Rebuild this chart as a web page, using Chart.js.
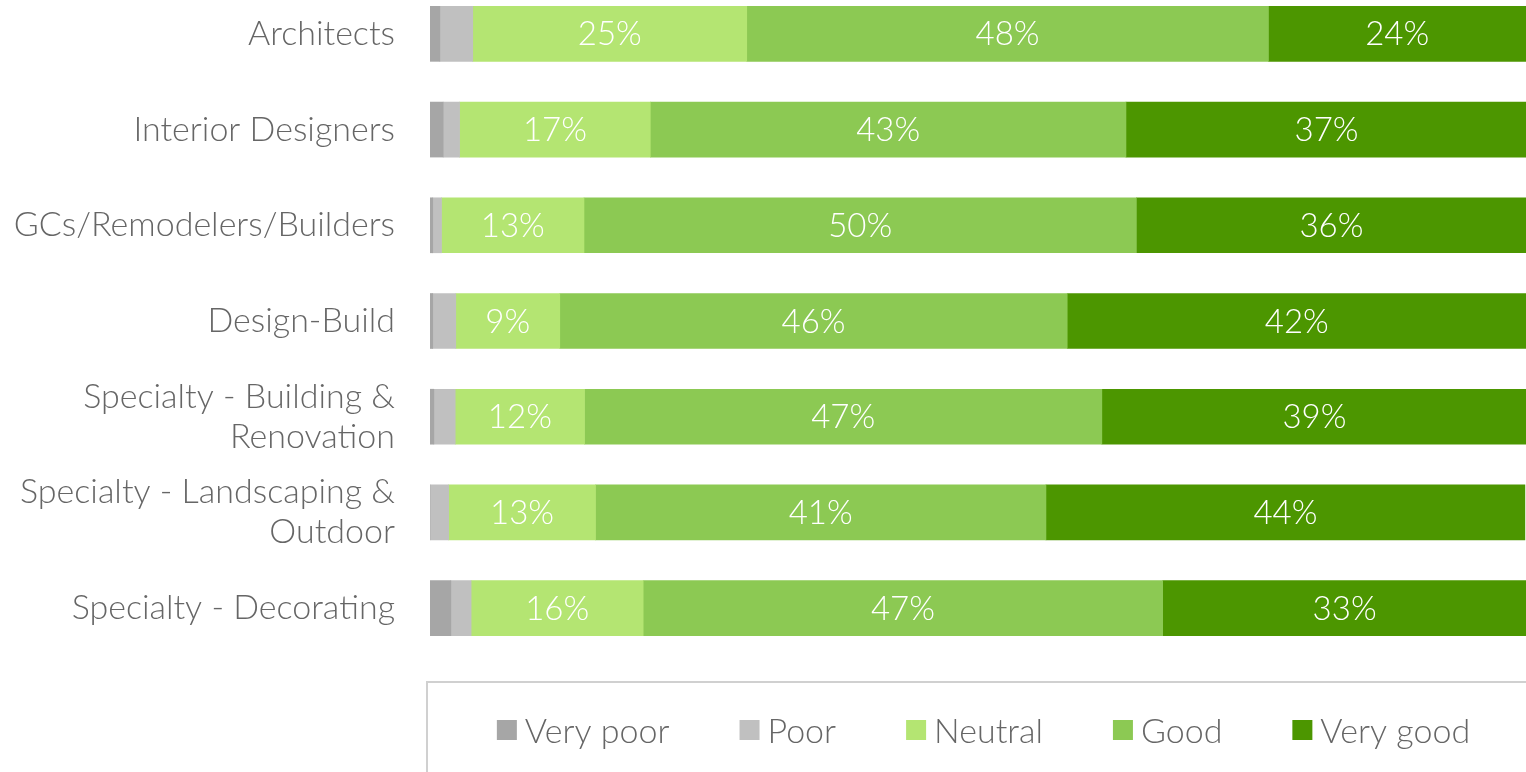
<!DOCTYPE html>
<html>
<head>
<meta charset="utf-8">
<script src="https://cdn.jsdelivr.net/npm/chart.js@4.4.1/dist/chart.umd.min.js"></script>
<style>
  html, body { margin: 0; padding: 0; background: #fff; }
  #wrap { width: 1526px; height: 772px; position: relative; overflow: hidden; }
  #inner { position: absolute; left: 0; top: -14px; width: 1526px; height: 786px; }
</style>
</head>
<body>
<div id="wrap"><div id="inner"><canvas id="ratingChart"></canvas></div></div>
<script>
// categories (y axis)
const categories = [
  "Architects",
  "Interior Designers",
  "GCs/Remodelers/Builders",
  "Design-Build",
  ["Specialty - Building &", "Renovation"],
  ["Specialty - Landscaping &", "Outdoor"],
  "Specialty - Decorating"
];
const seriesNames = ["Very poor", "Poor", "Neutral", "Good", "Very good"];

// share of answers, %
const veryPoor = [0.9, 1.2, 0.25, 0.25, 0.35, 0, 1.9];
const poor     = [3.0, 1.5, 0.8, 2.1, 1.95, 1.7, 1.85];
const neutral  = [25, 17.4, 13, 9.49, 11.8, 13.4, 15.7];
const good     = [47.6, 43.4, 50.4, 46.3, 47.2, 41.1, 47.4];
const veryGood = [23.5, 36.6, 35.6, 41.9, 38.8, 43.7, 33.2];

const seriesColors = ["#a6a6a6", "#c0c0c0", "#b4e572", "#8cc953", "#4c9600"];
const FONT = "Lato, 'Open Sans', sans-serif";

// white % labels on the three big segments
const valueLabels = {
  id: "valueLabels",
  afterDatasetsDraw(chart) {
    const ctx = chart.ctx;
    ctx.save();
    ctx.font = "300 33px " + FONT;
    ctx.fillStyle = "#ffffff";
    ctx.textAlign = "center";
    ctx.textBaseline = "middle";
    chart.data.datasets.forEach((ds, i) => {
      if (i < 2) return;
      chart.getDatasetMeta(i).data.forEach((bar, j) => {
        const v = ds.data[j];
        ctx.fillText(Math.round(v) + "%", (bar.x + bar.base) / 2, bar.y + 1);
      });
    });
    ctx.restore();
  }
};

// legend in a box at the bottom (canvas is shifted up 14px)
const boxLegend = {
  id: "boxLegend",
  afterDraw(chart) {
    const ctx = chart.ctx;
    const left = 427, top = 696;
    ctx.save();
    ctx.strokeStyle = "#d0d0d0";
    ctx.lineWidth = 2;
    ctx.beginPath();
    ctx.moveTo(left, chart.height);
    ctx.lineTo(left, top);
    ctx.lineTo(chart.width, top);
    ctx.stroke();

    ctx.font = "300 34px " + FONT;
    const box = 20, inner = 8, gap = 70;
    const widths = seriesNames.map(n => box + inner + ctx.measureText(n).width);
    const total = widths.reduce((a, b) => a + b, 0) + gap * (widths.length - 1);
    let x = (left + chart.width) / 2 + 7 - total / 2;
    const y = 745;
    ctx.textBaseline = "middle";
    ctx.textAlign = "left";
    seriesNames.forEach((n, i) => {
      ctx.fillStyle = seriesColors[i];
      ctx.fillRect(x, y - 11, box, box);
      ctx.fillStyle = "#666666";
      ctx.fillText(n, x + box + inner, y + 1);
      x += widths[i] + gap;
    });
    ctx.restore();
  }
};

const seriesData = [veryPoor, poor, neutral, good, veryGood];

const ratingConfig = {
  type: "bar",
  data: {
    labels: categories,
    datasets: seriesNames.map((name, i) => ({
      label: name,
      data: seriesData[i],
      backgroundColor: seriesColors[i],
      borderWidth: 0,
      barThickness: 55,
    })),
  },
  options: {
    indexAxis: "y",
    responsive: true,
    maintainAspectRatio: false,
    animation: false,
    layout: { padding: { top: 0, bottom: 116, left: 0, right: 0 } },
    scales: {
      x: {
        stacked: true,
        min: 0,
        max: 100,
        display: false,
      },
      y: {
        stacked: true,
        grid: { display: false, drawTicks: false },
        border: { display: false },
        ticks: {
          padding: 35,
          color: "#666666",
          font: { family: FONT, size: 34, weight: 300, lineHeight: 1.18 },
        },
        afterFit(scale) {
          scale.width = 430;
          // tick padding should not push the plot area down
          scale.paddingTop = 0;
          scale.paddingBottom = 0;
        },
      },
    },
    plugins: {
      legend: { display: false },
      tooltip: { enabled: false },
    },
  },
  plugins: [valueLabels, boxLegend],
};

const ratingCtx = document.getElementById("ratingChart").getContext("2d");
const ratingChart = new Chart(ratingCtx, ratingConfig);
</script>
</body>
</html>
